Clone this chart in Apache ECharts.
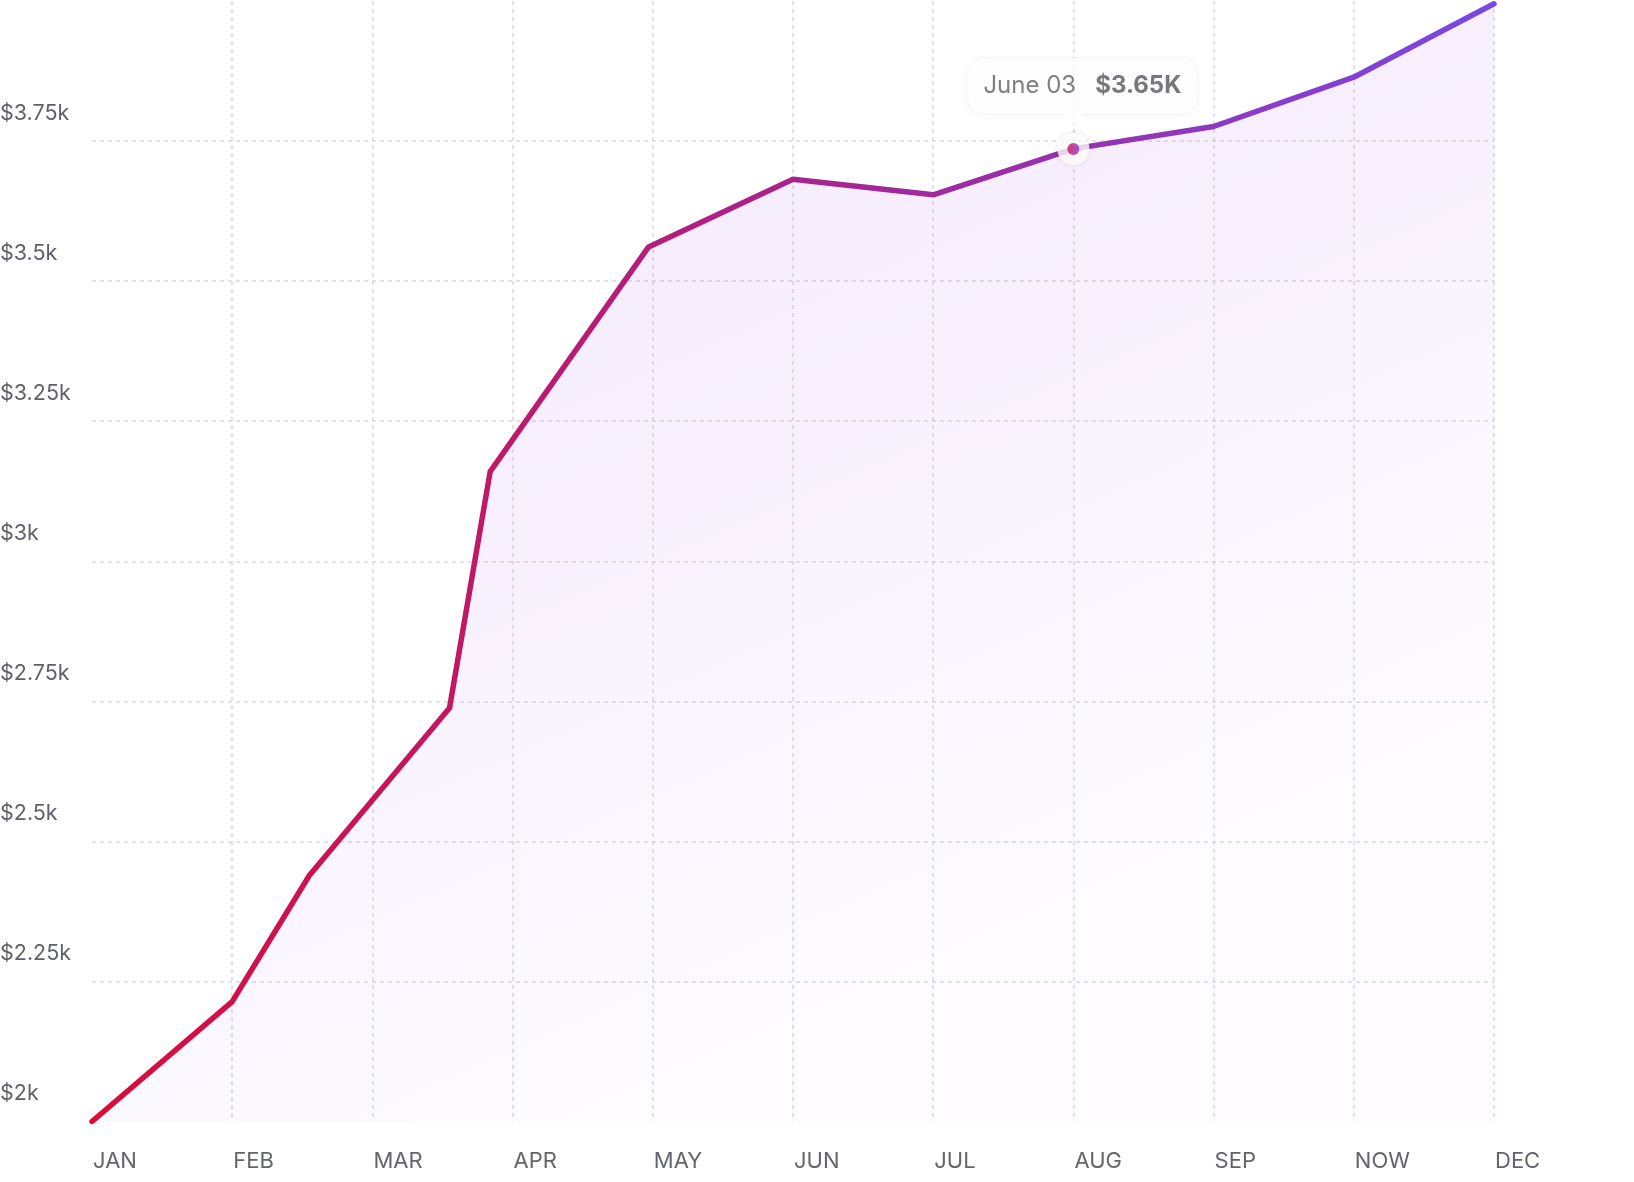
<!DOCTYPE html>
<html>
<head>
<meta charset="utf-8">
<script src="https://cdn.jsdelivr.net/npm/echarts@6/dist/echarts.min.js"></script>
<style>
html,body{margin:0;padding:0;background:#fff;}
#c{width:1634px;height:1182px;}
</style>
</head>
<body>
<div id="c"></div>
<script>
// Month tick labels (x axis is a 0..10 scale, one step per month tick)
const monthLabels = ['JAN','FEB','MAR','APR','MAY','JUN','JUL','AUG','SEP','NOW','DEC'];
// Series positions along the month scale and values ($)
const xPos   = [0, 1, 1.55, 2.55, 2.84, 3.97, 5, 6, 7, 8, 9, 10];
const values = [2000, 2214, 2439, 2738, 3160, 3561, 3682, 3654, 3736, 3776, 3864, 3995];
// Highlighted point
const highlightIndex = 8;
const highlightDate = 'June 03';
const highlightText = '$3.65K';
// Y axis range
const yMin = 2000, yMax = 4000, yStep = 250;

const lineData = xPos.map((x, i) => [x, values[i]]);
const hp = [xPos[highlightIndex], values[highlightIndex]];

const gridGrey = '#d9d8de';
const ySplitColors = [];
for (let v = yMin; v <= yMax; v += yStep) {
  ySplitColors.push(v === yMin || v === yMax ? 'rgba(0,0,0,0)' : gridGrey);
}
const xSplitColors = monthLabels.map((m, i) => i === 0 ? 'rgba(0,0,0,0)' : gridGrey);

const chart = echarts.init(document.getElementById('c'), null, {renderer: 'canvas'});
chart.setOption({
  animation: false,
  backgroundColor: '#fff',
  textStyle: {fontFamily: 'Inter'},
  grid: {left: 92, right: 140, top: 1, bottom: 60.5, containLabel: false, outerBoundsMode: 'none'},
  xAxis: {
    type: 'value', min: 0, max: monthLabels.length - 1, interval: 1,
    axisLine: {show: false}, axisTick: {show: false},
    splitLine: {show: true, lineStyle: {type: [4, 4], width: 1.5, color: xSplitColors}},
    axisLabel: {
      formatter: v => monthLabels[Math.round(v)] || '',
      align: 'left', margin: 29, padding: [0, 0, 0, 1],
      fontSize: 22, color: '#64646c', fontFamily: 'Inter',
      showMinLabel: true, showMaxLabel: true
    }
  },
  yAxis: {
    type: 'value', min: yMin, max: yMax, interval: yStep,
    axisLine: {show: false}, axisTick: {show: false},
    splitLine: {show: true, lineStyle: {type: [4, 4], width: 1.5, color: ySplitColors}},
    axisLabel: {
      formatter: v => '$' + (v / 1000) + 'k',
      align: 'left', margin: 92, verticalAlign: 'bottom', padding: [0, 0, 17, 0],
      fontSize: 21.5, color: '#60606a', fontFamily: 'Inter',
      showMaxLabel: false
    }
  },
  series: [
    {
      type: 'line', data: lineData, showSymbol: false, smooth: false, z: 3,
      lineStyle: {
        width: 5.5, cap: 'round', join: 'round',
        color: new echarts.graphic.LinearGradient(0, 0, 1, 0, [
          {offset: 0, color: '#dc0b36'},
          {offset: 0.5, color: '#a8238c'},
          {offset: 1, color: '#7a48e4'}
        ])
      },
      areaStyle: {
        color: new echarts.graphic.LinearGradient(0, 0, 0.35, 1, [
          {offset: 0, color: 'rgba(190,120,240,0.28)'},
          {offset: 1, color: 'rgba(190,120,240,0.04)'}
        ])
      }
    },
    {
      type: 'scatter', data: [hp], symbol: 'path://M0,0L2,0L1,1Z', symbolSize: [20, 11],
      symbolOffset: [0, -30], z: 6, silent: true,
      itemStyle: {color: '#ffffff'}
    },
    {
      type: 'scatter', data: [hp], symbolSize: 32, z: 5, silent: true,
      itemStyle: {color: '#ffffff', shadowBlur: 6, shadowColor: 'rgba(0,0,0,0.12)'},
      label: {
        show: true, position: 'top', distance: 19, offset: [9, 0],
        formatter: '{a|' + highlightDate + '}{s|}{b|' + highlightText + '}',
        backgroundColor: '#ffffff', borderRadius: 16, padding: [14, 16, 14, 16],
        borderColor: 'rgba(0,0,0,0.03)', borderWidth: 1,
        shadowBlur: 10, shadowColor: 'rgba(0,0,0,0.05)', shadowOffsetY: 1,
        rich: {
          a: {fontSize: 24, color: '#5e5e66', fontFamily: 'Inter', lineHeight: 28},
          s: {width: 19, lineHeight: 28},
          b: {fontSize: 24, color: '#55555c', fontWeight: 'bold', fontFamily: 'Inter', lineHeight: 28}
        }
      }
    },
    {
      type: 'scatter', data: [hp], symbolSize: 12, z: 7, silent: true,
      itemStyle: {
        color: new echarts.graphic.LinearGradient(0, 0, 1, 0, [
          {offset: 0, color: '#d80f45'},
          {offset: 1, color: '#8a34c8'}
        ])
      }
    }
  ]
});
</script>
</body>
</html>
